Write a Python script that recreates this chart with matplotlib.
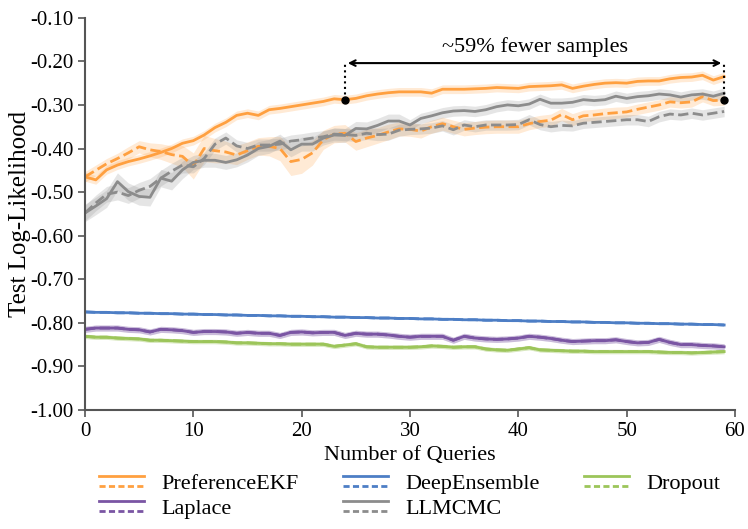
import matplotlib
matplotlib.use("Agg")
import matplotlib.pyplot as plt
from matplotlib.legend_handler import HandlerBase
from matplotlib.lines import Line2D
import numpy as np

plt.rcParams["font.family"] = "Liberation Serif"
plt.rcParams["axes.unicode_minus"] = False

queries = list(range(60))

ekf_full = [-0.465, -0.472, -0.449, -0.438, -0.430, -0.424, -0.417, -0.409, -0.400, -0.388,
            -0.382, -0.369, -0.352, -0.340, -0.324, -0.319, -0.324, -0.311, -0.308, -0.304,
            -0.300, -0.296, -0.292, -0.286, -0.288, -0.285, -0.279, -0.275, -0.272, -0.270,
            -0.270, -0.270, -0.273, -0.264, -0.264, -0.264, -0.263, -0.262, -0.260, -0.261,
            -0.262, -0.258, -0.257, -0.256, -0.254, -0.262, -0.257, -0.253, -0.250, -0.249,
            -0.250, -0.246, -0.245, -0.245, -0.240, -0.237, -0.236, -0.232, -0.243, -0.235]
ekf_sub = [-0.465, -0.450, -0.435, -0.423, -0.410, -0.396, -0.403, -0.407, -0.414, -0.418,
           -0.440, -0.400, -0.405, -0.408, -0.415, -0.405, -0.395, -0.395, -0.400, -0.430,
           -0.425, -0.410, -0.380, -0.367, -0.365, -0.384, -0.376, -0.370, -0.362, -0.355,
           -0.356, -0.360, -0.350, -0.343, -0.350, -0.356, -0.353, -0.351, -0.350, -0.350,
           -0.350, -0.343, -0.338, -0.335, -0.322, -0.334, -0.325, -0.323, -0.320, -0.318,
           -0.316, -0.310, -0.305, -0.300, -0.293, -0.295, -0.293, -0.281, -0.290, -0.289]
mcmc_full = [-0.548, -0.532, -0.515, -0.476, -0.499, -0.510, -0.512, -0.468, -0.475, -0.449,
             -0.432, -0.427, -0.427, -0.432, -0.426, -0.415, -0.400, -0.395, -0.383, -0.403,
             -0.390, -0.390, -0.376, -0.369, -0.370, -0.354, -0.355, -0.347, -0.337, -0.337,
             -0.346, -0.331, -0.325, -0.318, -0.314, -0.313, -0.315, -0.311, -0.304, -0.300,
             -0.302, -0.298, -0.287, -0.296, -0.296, -0.294, -0.288, -0.290, -0.288, -0.280,
             -0.285, -0.281, -0.279, -0.275, -0.277, -0.282, -0.277, -0.275, -0.280, -0.273]
mcmc_sub = [-0.548, -0.525, -0.505, -0.500, -0.508, -0.496, -0.487, -0.468, -0.452, -0.438,
            -0.442, -0.423, -0.390, -0.376, -0.394, -0.400, -0.392, -0.392, -0.390, -0.383,
            -0.380, -0.376, -0.373, -0.367, -0.368, -0.370, -0.365, -0.368, -0.367, -0.358,
            -0.356, -0.355, -0.353, -0.348, -0.357, -0.346, -0.350, -0.346, -0.346, -0.346,
            -0.345, -0.334, -0.345, -0.350, -0.347, -0.348, -0.342, -0.340, -0.338, -0.336,
            -0.334, -0.334, -0.338, -0.327, -0.321, -0.323, -0.319, -0.323, -0.319, -0.315]
ensemble = [-0.775, -0.776, -0.776, -0.777, -0.777, -0.778, -0.778, -0.779, -0.779, -0.780,
            -0.780, -0.781, -0.781, -0.782, -0.782, -0.783, -0.783, -0.784, -0.784, -0.785,
            -0.785, -0.786, -0.786, -0.787, -0.787, -0.788, -0.788, -0.789, -0.789, -0.790,
            -0.790, -0.791, -0.791, -0.792, -0.792, -0.793, -0.793, -0.794, -0.794, -0.795,
            -0.795, -0.796, -0.796, -0.797, -0.797, -0.798, -0.798, -0.799, -0.799, -0.800,
            -0.800, -0.801, -0.801, -0.802, -0.802, -0.803, -0.803, -0.804, -0.804, -0.805]
laplace = [-0.815, -0.812, -0.812, -0.812, -0.815, -0.816, -0.821, -0.815, -0.816, -0.818,
           -0.822, -0.820, -0.820, -0.821, -0.824, -0.822, -0.824, -0.824, -0.829, -0.822,
           -0.821, -0.823, -0.822, -0.822, -0.829, -0.824, -0.826, -0.826, -0.828, -0.831,
           -0.833, -0.831, -0.831, -0.831, -0.840, -0.831, -0.835, -0.837, -0.838, -0.837,
           -0.835, -0.831, -0.833, -0.836, -0.840, -0.843, -0.842, -0.841, -0.841, -0.839,
           -0.843, -0.846, -0.845, -0.838, -0.845, -0.850, -0.850, -0.852, -0.853, -0.855]
dropout = [-0.831, -0.833, -0.833, -0.835, -0.836, -0.837, -0.840, -0.840, -0.841, -0.842,
           -0.843, -0.843, -0.843, -0.844, -0.846, -0.846, -0.847, -0.848, -0.848, -0.849,
           -0.849, -0.849, -0.849, -0.854, -0.851, -0.848, -0.855, -0.856, -0.856, -0.856,
           -0.856, -0.855, -0.853, -0.854, -0.856, -0.855, -0.855, -0.860, -0.862, -0.863,
           -0.860, -0.857, -0.862, -0.863, -0.864, -0.865, -0.865, -0.866, -0.866, -0.866,
           -0.866, -0.866, -0.866, -0.867, -0.868, -0.868, -0.869, -0.868, -0.867, -0.866]

# standard errors used for the shaded bands
ekf_full_err = [0.010] * 60
ekf_sub_err = [0.012, 0.012, 0.012, 0.012, 0.014, 0.014, 0.016, 0.018, 0.020, 0.025,
               0.030, 0.030, 0.028, 0.025, 0.022, 0.020, 0.020, 0.022, 0.028, 0.032,
               0.032, 0.028, 0.022, 0.020, 0.020, 0.020, 0.020, 0.018, 0.018, 0.016,
               0.016, 0.016, 0.015, 0.015, 0.015, 0.015, 0.015, 0.015, 0.015, 0.015,
               0.015, 0.014, 0.014, 0.014, 0.014, 0.014, 0.013, 0.013, 0.013, 0.013,
               0.012, 0.012, 0.012, 0.012, 0.012, 0.012, 0.012, 0.012, 0.012, 0.012]
mcmc_full_err = [0.020] * 10 + [0.016] * 20 + [0.012] * 30
mcmc_sub_err = [0.018] * 10 + [0.014] * 20 + [0.012] * 30
laplace_err = [0.007] * 60
dropout_err = [0.005] * 60

# legend fills column by column: rows read PreferenceEKF / DeepEnsemble / Dropout, then Laplace / LLMCMC
methods = ["PreferenceEKF", "Laplace", "DeepEnsemble", "LLMCMC", "Dropout"]
colors = {"PreferenceEKF": "#FFA040", "DeepEnsemble": "#4D7EC5", "Dropout": "#9CC55A",
          "Laplace": "#7A55A3", "LLMCMC": "#8C8C8C"}

curves = [
    ("PreferenceEKF", ekf_full, ekf_full_err, "-"),
    ("PreferenceEKF", ekf_sub, ekf_sub_err, "--"),
    ("LLMCMC", mcmc_full, mcmc_full_err, "-"),
    ("LLMCMC", mcmc_sub, mcmc_sub_err, "--"),
    ("DeepEnsemble", ensemble, [0.0] * 60, "-"),
    ("DeepEnsemble", ensemble, [0.0] * 60, "--"),
    ("Laplace", laplace, laplace_err, "-"),
    ("Laplace", laplace, laplace_err, "--"),
    ("Dropout", dropout, dropout_err, "-"),
    ("Dropout", dropout, dropout_err, "--"),
]


class SolidOverDashed(HandlerBase):
    # legend key: a solid line stacked above a dashed one
    def create_artists(self, legend, orig_handle, xdescent, ydescent,
                       width, height, fontsize, trans):
        color = orig_handle.get_color()
        x0, x1 = -xdescent, width - xdescent
        ymid = height / 2 - ydescent
        off = height * 0.32
        top = Line2D([x0, x1], [ymid + off, ymid + off], color=color, lw=2,
                     transform=trans)
        bot = Line2D([x0, x1], [ymid - off, ymid - off], color=color, lw=2,
                     ls=(0, (2.2, 1.2)), transform=trans)
        return [top, bot]


fig = plt.figure(figsize=(7.48, 5.29), dpi=100)
ax = fig.add_axes([0.1136, 0.225, 0.869, 0.7414])

x = np.array(queries)
for name, mean, err, ls in curves:
    mean = np.array(mean)
    err = np.array(err)
    c = colors[name]
    if err.max() > 0:
        ax.fill_between(x, mean - err, mean + err, color=c, alpha=0.22, lw=0)
    ax.plot(x, mean, color=c, ls=ls, lw=2)

# sample-efficiency annotation
y_arrow = -0.204
ax.plot([24, 24], [ekf_full[24], y_arrow], color="black", ls=":", lw=1.5)
ax.plot([59, 59], [ekf_sub[59], y_arrow], color="black", ls=":", lw=1.5)
ax.plot([24, 59], [ekf_full[24], ekf_sub[59]], "o", color="black", ms=5)
ax.annotate("", xy=(24, y_arrow), xytext=(59, y_arrow),
            arrowprops=dict(arrowstyle="<->", color="black", lw=1.5))
ax.text(41.5, -0.168, "~59% fewer samples", ha="center", va="center", fontsize=16)

ax.set_xlim(0, 60)
ax.set_ylim(-1.0, -0.1)
ax.set_xticks([0, 10, 20, 30, 40, 50, 60])
ax.set_yticks(np.arange(-1.0, -0.05, 0.1))
ax.yaxis.set_major_formatter(plt.FormatStrFormatter("%.2f"))
ax.tick_params(labelsize=15, length=5, width=1.2, color="#555555")
ax.set_xlabel("Number of Queries", fontsize=16, labelpad=4)
ax.set_ylabel("Test Log-Likelihood", fontsize=18)
ax.yaxis.set_label_coords(-0.083, 0.5)
for side in ["top", "right"]:
    ax.spines[side].set_visible(False)
for side in ["left", "bottom"]:
    ax.spines[side].set_color("#555555")
    ax.spines[side].set_linewidth(1.5)

handles = [Line2D([], [], color=colors[m]) for m in methods]
ax.legend(handles, methods, handler_map={Line2D: SolidOverDashed()},
          loc="upper center", bbox_to_anchor=(0.5, -0.11), ncol=3, frameon=False,
          fontsize=16, handlelength=2.0, handletextpad=0.8, columnspacing=2.0,
          labelspacing=0.2)

fig.savefig("out.png", dpi=100)
